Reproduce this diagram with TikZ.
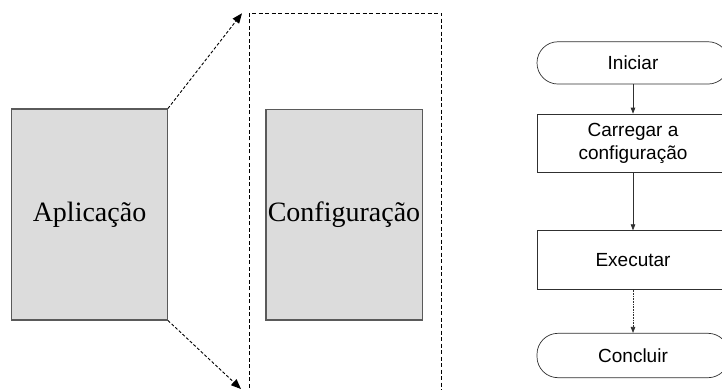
\documentclass[tikz,border=0pt]{standalone}
\usepackage{fontspec}
\setmainfont{Liberation Serif}
\setsansfont{Liberation Sans}
\usetikzlibrary{arrows.meta}
\definecolor{boxfill}{HTML}{DCDCDC}
\definecolor{boxline}{HTML}{5A5A5A}
\definecolor{flowline}{HTML}{303030}
\tikzset{
  graybox/.style={draw=boxline, line width=1.3pt, fill=boxfill, inner sep=0pt,
    font=\fontsize{28}{32}\selectfont},
  zoomarrow/.style={draw=black, line width=0.9pt, dash pattern=on 3pt off 2pt,
    -{Triangle[length=10pt,width=8pt]}},
  frame/.style={draw=black, line width=0.9pt, dash pattern=on 4pt off 2.5pt},
  flowbox/.style={draw=flowline, line width=0.7pt, minimum width=192pt, inner sep=0pt,
    align=center, font=\sffamily\fontsize{19}{23.5}\selectfont},
  terminal/.style={flowbox, rounded corners=21pt},
  flowarrow/.style={draw=flowline, line width=0.7pt, -{Triangle[length=6pt,width=4.5pt]}},
}
\begin{document}
\begin{tikzpicture}[x=1pt, y=-1pt]
  \useasboundingbox (0,0) rectangle (722,390);
  \clip (0,0) rectangle (722,390);

  % application and its configuration
  \node[graybox, minimum width=155.6pt, minimum height=210.7pt] (app) at (89.5,214.5) {Aplicação};
  \node[graybox, minimum width=156.3pt, minimum height=210.7pt] (cfg) at (344,214.7) {Configuração};

  % dashed enlargement frame (runs past the lower edge)
  \draw[frame] (249.3,420) -- (249.3,13.3) -- (441.7,13.3) -- (441.7,420);
  \coordinate (tgtTop) at (242,13.3);
  \coordinate (tgtBot) at (241,389);
  \draw[zoomarrow] (app.north east) -- (tgtTop);
  \draw[zoomarrow] (app.south east) -- (tgtBot);

  % flowchart
  \node[terminal, minimum height=42.3pt] (ini) at (633,62.9) {Iniciar};
  \node[flowbox, minimum height=58.7pt] (car) at (633,143.4) {Carregar a\\configuração};
  \node[flowbox, minimum height=58.6pt] (exe) at (633,260) {Executar};
  \node[terminal, minimum height=44.4pt] (con) at (633,355.5) {Concluir};

  \draw[flowarrow] (ini) -- (car);
  \draw[flowarrow] (car) -- (exe);
  \draw[flowarrow, dash pattern=on 1pt off 0.6pt] (exe) -- (con);
\end{tikzpicture}
\end{document}
